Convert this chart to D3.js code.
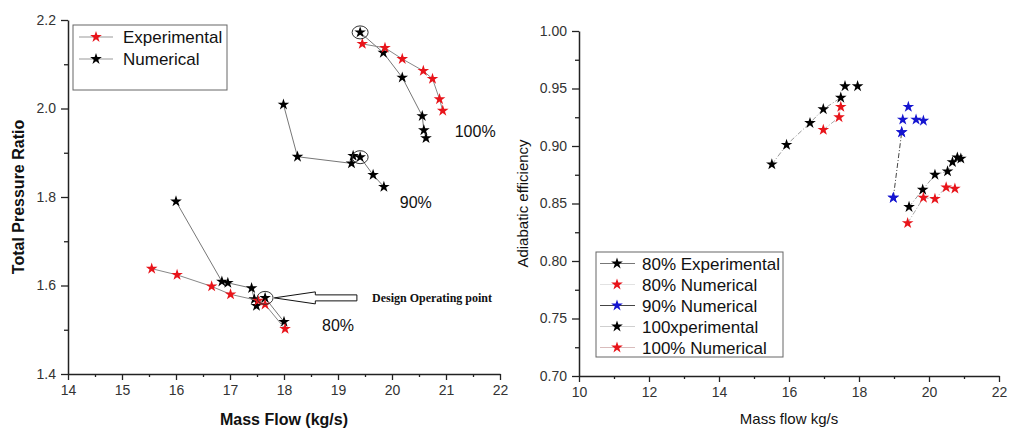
<!DOCTYPE html>
<html>
<head>
<meta charset="utf-8">
<script src="https://cdn.jsdelivr.net/npm/d3@7"></script>
<style>
  body { margin: 0; background: #fff; }
  text { font-family: "Liberation Sans", Arial, sans-serif; }
</style>
</head>
<body>
<div id="chart"></div>
<script>
// ---- data: left chart (total pressure ratio vs mass flow) ----
var exp100X = [19.45, 19.87, 20.19, 20.58, 20.75, 20.88, 20.94]
var exp100Y = [2.146, 2.137, 2.112, 2.085, 2.067, 2.021, 1.995]
var num100X = [19.41, 19.84, 20.19, 20.56, 20.59, 20.63]
var num100Y = [2.172, 2.126, 2.070, 1.983, 1.951, 1.933]
var num90X = [17.99, 18.25, 19.25, 19.28, 19.41, 19.65, 19.85]
var num90Y = [2.009, 1.891, 1.876, 1.893, 1.890, 1.850, 1.823]
var exp80X = [15.55, 16.02, 16.66, 17.01, 17.52, 17.65, 18.02]
var exp80Y = [1.638, 1.624, 1.598, 1.580, 1.566, 1.557, 1.502]
var num80X = [16.00, 16.85, 16.96, 17.40, 17.45, 17.49, 17.65, 18.00]
var num80Y = [1.790, 1.609, 1.606, 1.594, 1.569, 1.554, 1.572, 1.518]
// circled design points
var designX = [19.41, 19.41, 17.65]
var designY = [2.172, 1.890, 1.572]
var leftXTicks = [14, 15, 16, 17, 18, 19, 20, 21, 22]
var leftYTicks = [1.4, 1.6, 1.8, 2.0, 2.2]
var leftYMinor = [1.5, 1.7, 1.9, 2.1]

// ---- data: right chart (adiabatic efficiency vs mass flow) ----
var e80X = [15.51, 15.93, 16.60, 16.98, 17.48]
var e80Y = [0.884, 0.901, 0.920, 0.932, 0.942]
var e80ExtraX = [17.60, 17.96]
var e80ExtraY = [0.952, 0.952]
var n80X = [16.98, 17.43, 17.48]
var n80Y = [0.914, 0.925, 0.934]
var n90X = [18.98, 19.22, 19.25, 19.41, 19.63, 19.84]
var n90Y = [0.855, 0.912, 0.923, 0.934, 0.923, 0.922]
var e100X = [19.43, 19.82, 20.17, 20.53, 20.67, 20.81, 20.91]
var e100Y = [0.847, 0.862, 0.875, 0.878, 0.886, 0.890, 0.889]
var n100X = [19.39, 19.84, 20.17, 20.49, 20.74]
var n100Y = [0.833, 0.855, 0.854, 0.864, 0.863]
var rightXTicks = [10, 12, 14, 16, 18, 20, 22]
var rightXMinor = [11, 13, 15, 17, 19, 21]
var rightYTicks = [0.70, 0.75, 0.80, 0.85, 0.90, 0.95, 1.00]
var rightYMinor = [0.725, 0.775, 0.825, 0.875, 0.925, 0.975]
var rightLegend = ["80% Experimental", "80% Numerical", "90% Numerical", "100xperimental", "100% Numerical"]

var width = 1009, height = 430
var axisColor = "#222", tickText = "#333"

var svg = d3.select("#chart").append("svg")
  .attr("width", width).attr("height", height)

var star = d3.symbol().type(d3.symbolStar).size(42)

function zip(xs, ys) { return xs.map((x, i) => [x, ys[i]]) }

function drawSeries(g, x, y, pts, color, lineColor, dash, connect) {
  if (connect) {
    g.append("path")
      .attr("d", d3.line().x(d => x(d[0])).y(d => y(d[1]))(pts))
      .attr("fill", "none")
      .attr("stroke", lineColor)
      .attr("stroke-width", 1)
      .attr("stroke-dasharray", dash)
  }
  g.selectAll(null).data(pts).enter().append("path")
    .attr("d", star)
    .attr("transform", d => "translate(" + x(d[0]) + "," + y(d[1]) + ")")
    .attr("fill", color)
}

function styleAxis(a) {
  a.select(".domain").attr("stroke", axisColor).attr("stroke-width", 1.5)
  a.selectAll(".tick line").attr("stroke", axisColor).attr("stroke-width", 1.3)
  a.selectAll("text").attr("fill", tickText).style("font-size", "14px")
    .style("font-family", "Liberation Sans, Arial, sans-serif")
}

// ================= LEFT CHART =================
var xL = d3.scaleLinear().domain([14, 22]).range([68, 500])
var yL = d3.scaleLinear().domain([1.4, 2.2]).range([374, 20])
var gL = svg.append("g")

var axL = gL.append("g").attr("transform", "translate(0," + yL(1.4) + ")")
  .call(d3.axisBottom(xL).tickValues(leftXTicks).tickSize(6).tickSizeOuter(0).tickPadding(5))
styleAxis(axL)
// minor x ticks at half units
gL.append("g").attr("transform", "translate(0," + yL(1.4) + ")")
  .call(d3.axisBottom(xL).tickValues(leftXTicks.slice(0, -1).map(v => v + 0.5)).tickSize(3).tickFormat(""))
  .call(a => { a.select(".domain").remove(); a.selectAll("line").attr("stroke", axisColor).attr("stroke-width", 1.3) })

var ayL = gL.append("g").attr("transform", "translate(" + xL(14) + ",0)")
  .call(d3.axisLeft(yL).tickValues(leftYTicks).tickFormat(d3.format(".1f")).tickSize(7).tickSizeOuter(0).tickPadding(5))
styleAxis(ayL)
gL.append("g").attr("transform", "translate(" + xL(14) + ",0)")
  .call(d3.axisLeft(yL).tickValues(leftYMinor).tickSize(4).tickFormat(""))
  .call(a => { a.select(".domain").remove(); a.selectAll("line").attr("stroke", axisColor).attr("stroke-width", 1.3) })

gL.append("text").text("Mass Flow (kg/s)")
  .attr("x", xL(18)).attr("y", 425).attr("text-anchor", "middle")
  .style("font-weight", "bold").style("font-size", "16px").attr("fill", "#111")
gL.append("text").text("Total Pressure Ratio")
  .attr("transform", "translate(24," + yL(1.8) + ") rotate(-90)")
  .attr("text-anchor", "middle")
  .style("font-weight", "bold").style("font-size", "16px").attr("fill", "#111")

drawSeries(gL, xL, yL, zip(num100X, num100Y), "#000", "#777", null, true)
drawSeries(gL, xL, yL, zip(exp100X, exp100Y), "#e8141a", "#888", null, true)
drawSeries(gL, xL, yL, zip(num90X, num90Y), "#000", "#777", null, true)
drawSeries(gL, xL, yL, zip(num80X, num80Y), "#000", "#777", null, true)
drawSeries(gL, xL, yL, zip(exp80X, exp80Y), "#e8141a", "#888", null, true)

// design point circles
gL.selectAll(null).data(zip(designX, designY)).enter().append("ellipse")
  .attr("cx", d => xL(d[0])).attr("cy", d => yL(d[1]))
  .attr("rx", 8).attr("ry", 6.5)
  .attr("fill", "none").attr("stroke", "#333").attr("stroke-width", 1)

// speed labels
var speedLabels = [["100%", 21.54, 1.949], ["90%", 20.44, 1.789], ["80%", 19.0, 1.511]]
gL.selectAll(null).data(speedLabels).enter().append("text")
  .text(d => d[0]).attr("x", d => xL(d[1])).attr("y", d => yL(d[2]) + 6)
  .attr("text-anchor", "middle").style("font-size", "16px").attr("fill", "#111")

// design operating point arrow (hollow)
var tipX = xL(17.82), tipY = yL(1.572), headX = xL(18.58), tailX = xL(19.35)
gL.append("path")
  .attr("d", "M" + tipX + "," + tipY +
    " L" + headX + "," + (tipY - 6) + " L" + headX + "," + (tipY - 3) +
    " L" + tailX + "," + (tipY - 3) + " L" + tailX + "," + (tipY + 3) +
    " L" + headX + "," + (tipY + 3) + " L" + headX + "," + (tipY + 6) + " Z")
  .attr("fill", "#fff").attr("stroke", "#111").attr("stroke-width", 1)
gL.append("text").text("Design Operating point")
  .attr("x", xL(19.63)).attr("y", tipY + 4)
  .style("font-family", "Liberation Serif, Times New Roman, serif")
  .style("font-weight", "bold").style("font-size", "12px").attr("fill", "#111")

// left legend
var legL = gL.append("g")
legL.append("rect").attr("x", 73).attr("y", 25).attr("width", 154).attr("height", 65)
  .attr("fill", "#fff").attr("stroke", "#666").attr("stroke-width", 1)
var legLItems = [["Experimental", "#e8141a"], ["Numerical", "#000"]]
legLItems.forEach(function (d, i) {
  var cy = 37 + i * 22
  legL.append("line").attr("x1", 79).attr("x2", 113).attr("y1", cy).attr("y2", cy)
    .attr("stroke", "#999").attr("stroke-width", 1)
  legL.append("path").attr("d", star).attr("transform", "translate(96," + cy + ")").attr("fill", d[1])
  legL.append("text").text(d[0]).attr("x", 123).attr("y", cy + 6)
    .style("font-size", "17px").attr("fill", "#111")
})

// ================= RIGHT CHART =================
var xR = d3.scaleLinear().domain([10, 22]).range([579, 999])
var yR = d3.scaleLinear().domain([0.70, 1.00]).range([376, 31])
var gR = svg.append("g")

var axR = gR.append("g").attr("transform", "translate(0," + yR(0.70) + ")")
  .call(d3.axisBottom(xR).tickValues(rightXTicks).tickSize(6).tickSizeOuter(0).tickPadding(5))
styleAxis(axR)
gR.append("g").attr("transform", "translate(0," + yR(0.70) + ")")
  .call(d3.axisBottom(xR).tickValues(rightXMinor).tickSize(3).tickFormat(""))
  .call(a => { a.select(".domain").remove(); a.selectAll("line").attr("stroke", axisColor).attr("stroke-width", 1.3) })

var ayR = gR.append("g").attr("transform", "translate(" + xR(10) + ",0)")
  .call(d3.axisLeft(yR).tickValues(rightYTicks).tickFormat(d3.format(".2f")).tickSize(7).tickSizeOuter(0).tickPadding(5))
styleAxis(ayR)
gR.append("g").attr("transform", "translate(" + xR(10) + ",0)")
  .call(d3.axisLeft(yR).tickValues(rightYMinor).tickSize(4).tickFormat(""))
  .call(a => { a.select(".domain").remove(); a.selectAll("line").attr("stroke", axisColor).attr("stroke-width", 1.3) })

gR.append("text").text("Mass flow kg/s")
  .attr("x", xR(16.0)).attr("y", 424).attr("text-anchor", "middle")
  .style("font-size", "15px").attr("fill", "#111")
gR.append("text").text("Adiabatic efficiency")
  .attr("transform", "translate(528," + yR(0.85) + ") rotate(-90)")
  .attr("text-anchor", "middle")
  .style("font-size", "15px").attr("fill", "#111")

var dashDot = "5,2,1,2"
drawSeries(gR, xR, yR, zip(e80X, e80Y), "#000", "#999", dashDot, true)
drawSeries(gR, xR, yR, zip(e80ExtraX, e80ExtraY), "#000", "#999", dashDot, false)
drawSeries(gR, xR, yR, zip(n80X, n80Y), "#e8141a", "#aaa", dashDot, true)
drawSeries(gR, xR, yR, zip(n90X, n90Y).slice(0, 2), "#1515d0", "#444", dashDot, true)
drawSeries(gR, xR, yR, zip(n90X, n90Y), "#1515d0", "#444", dashDot, false)
drawSeries(gR, xR, yR, zip(e100X, e100Y), "#000", "#999", dashDot, true)
drawSeries(gR, xR, yR, zip(n100X, n100Y), "#e8141a", "#aaa", dashDot, true)

// right legend
var legR = gR.append("g")
legR.append("rect").attr("x", 596).attr("y", 252).attr("width", 187).attr("height", 105)
  .attr("fill", "#fff").attr("stroke", "#666").attr("stroke-width", 1)
var legRColors = ["#000", "#e8141a", "#1515d0", "#000", "#e8141a"]
var legRLines = ["#777", "#e2e2e2", "#444", "#cfcfcf", "#d9bcbc"]
rightLegend.forEach(function (name, i) {
  var cy = 263.5 + i * 21
  legR.append("line").attr("x1", 600).attr("x2", 635).attr("y1", cy).attr("y2", cy)
    .attr("stroke", legRLines[i]).attr("stroke-width", 1.2)
  legR.append("path").attr("d", star).attr("transform", "translate(617," + cy + ")").attr("fill", legRColors[i])
  legR.append("text").text(name).attr("x", 642).attr("y", cy + 6)
    .style("font-size", "17px").attr("fill", "#111")
})
</script>
</body>
</html>
